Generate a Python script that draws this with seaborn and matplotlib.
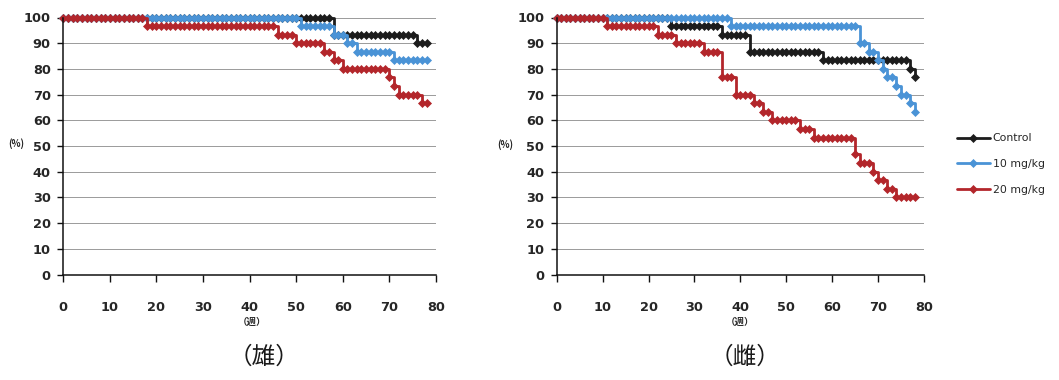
import numpy as np
import pandas as pd
import matplotlib
matplotlib.use("Agg")
import matplotlib.pyplot as plt
import seaborn as sns

sns.set_style("white")
plt.rcParams["font.family"] = ["DejaVu Sans", "Noto Sans CJK JP"]

# Observation weeks (one survival reading per week)
weeks = np.arange(0, 79)
groups = ["Control", "10 mg/kg", "20 mg/kg"]
colors = ["#1c1c1c", "#4a93d6", "#b3262b"]
y_ticks = list(range(0, 101, 10))
x_ticks = list(range(0, 81, 10))

# Survival rate (%) from each week on where it changes - males
male_control_weeks = [0, 58, 76]
male_control_pct = [100, 93.3, 90.0]
male_10_weeks = [0, 51, 58, 61, 63, 71]
male_10_pct = [100, 96.7, 93.3, 90.0, 86.7, 83.3]
male_20_weeks = [0, 18, 46, 50, 56, 58, 60, 70, 71, 72, 77]
male_20_pct = [100, 96.7, 93.3, 90.0, 86.7, 83.3, 80.0, 76.7, 73.3, 70.0, 66.7]

# Survival rate (%) from each week on where it changes - females
female_control_weeks = [0, 25, 36, 42, 58, 77, 78]
female_control_pct = [100, 96.7, 93.3, 86.7, 83.3, 80.0, 76.7]
female_10_weeks = [0, 38, 66, 68, 70, 71, 72, 74, 75, 77, 78]
female_10_pct = [100, 96.7, 90.0, 86.7, 83.3, 80.0, 76.7, 73.3, 70.0, 66.7, 63.3]
female_20_weeks = [0, 11, 22, 26, 32, 36, 39, 43, 45, 47, 53, 56, 65, 66, 69, 70, 72, 74]
female_20_pct = [100, 96.7, 93.3, 90.0, 86.7, 76.7, 70.0, 66.7, 63.3, 60.0, 56.7,
                 53.3, 46.7, 43.3, 40.0, 36.7, 33.3, 30.0]

male = [(male_control_weeks, male_control_pct),
        (male_10_weeks, male_10_pct),
        (male_20_weeks, male_20_pct)]
female = [(female_control_weeks, female_control_pct),
          (female_10_weeks, female_10_pct),
          (female_20_weeks, female_20_pct)]


def weekly(change_weeks, pct):
    """Survival carried forward week by week (Kaplan-Meier step curve)."""
    return pd.Series(pct, index=change_weeks).reindex(weeks).ffill().to_numpy()


W, H = 1059, 380
fig = plt.figure(figsize=(W / 100, H / 100), dpi=100)
ax_m = fig.add_axes([63.3 / W, 1 - 274.5 / H, 372.7 / W, 257 / H])
ax_f = fig.add_axes([556.7 / W, 1 - 274.5 / H, 367.3 / W, 257 / H])

tick_font = dict(fontsize=9.3, fontweight="bold", color="#262626")

for ax, sets, show_label in [(ax_m, male, False), (ax_f, female, True)]:
    for (wk, pct), name, col in zip(sets, groups, colors):
        sns.lineplot(x=weeks, y=weekly(wk, pct), ax=ax, color=col,
                     drawstyle="steps-post", marker="D", markersize=4.0,
                     markeredgewidth=0.5, markeredgecolor=col, linewidth=2.0,
                     clip_on=False, label=name if show_label else None,
                     legend=False)
    ax.set_xlim(0, 80)
    ax.set_ylim(0, 100)
    ax.set_xticks(x_ticks)
    ax.set_yticks(y_ticks)
    ax.set_xticklabels([str(v) for v in x_ticks], **tick_font)
    ax.set_yticklabels([str(v) for v in y_ticks], **tick_font)
    ax.yaxis.grid(True, color="#9a9a9a", linewidth=0.7)
    ax.xaxis.grid(False)
    ax.set_axisbelow(True)
    for side in ("top", "right"):
        ax.spines[side].set_visible(False)
    for side in ("left", "bottom"):
        ax.spines[side].set_color("#111111")
        ax.spines[side].set_linewidth(1.1)
    ax.tick_params(axis="x", direction="out", length=5, width=1.0,
                   color="#111111", pad=14, bottom=True)
    ax.tick_params(axis="y", direction="out", length=4, width=1.0,
                   color="#111111", pad=5, left=True)
    ax.set_xlabel("")
    ax.set_ylabel("")

# Axis unit labels
small_cjk = dict(fontsize=6.8, fontweight="bold", color="#262626",
                 family=["Noto Sans CJK JP", "DejaVu Sans"])
fig.text(16.5 / W, 1 - 144 / H, "(%)", ha="center", va="center", **small_cjk)
fig.text(505 / W, 1 - 145 / H, "(%)", ha="center", va="center", **small_cjk)
fig.text(252 / W, 1 - 322 / H, "（週）", ha="center", va="center", **small_cjk)
fig.text(740 / W, 1 - 322 / H, "（週）", ha="center", va="center", **small_cjk)

# Panel captions
cap = dict(fontsize=17, color="#1a1a1a", family=["Noto Sans CJK JP", "DejaVu Sans"])
fig.text(264 / W, 1 - 357 / H, "（雄）", ha="center", va="center", **cap)
fig.text(745 / W, 1 - 357 / H, "（雌）", ha="center", va="center", **cap)

# Shared legend to the right of the female panel
handles, labels = ax_f.get_legend_handles_labels()
fig.legend(handles, labels, loc="center left",
           bbox_to_anchor=(957 / W, 1 - 164 / H), frameon=False,
           fontsize=7.8, handlelength=3.0, handletextpad=0.3,
           labelspacing=1.45, borderaxespad=0, borderpad=0,
           labelcolor="#262626")

fig.savefig("out.png", dpi=100, facecolor="white")
